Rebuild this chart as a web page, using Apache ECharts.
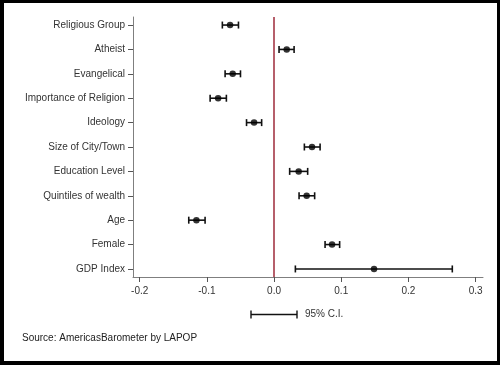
<!DOCTYPE html>
<html><head><meta charset="utf-8">
<script src="https://cdn.jsdelivr.net/npm/echarts@6/dist/echarts.min.js"></script>
<style>
html,body{margin:0;padding:0;background:#fff;}
#c{position:absolute;left:0;top:0;width:500px;height:365px;}
#frame{position:absolute;left:0;top:0;width:500px;height:365px;box-sizing:border-box;border-style:solid;border-color:#000;border-width:3px 3px 4px 4px;pointer-events:none;}
</style></head>
<body><div id="c"></div><div id="frame"></div>
<script>
const categories = ["Religious Group","Atheist","Evangelical","Importance of Religion","Ideology","Size of City/Town","Education Level","Quintiles of wealth","Age","Female","GDP Index"];
const estimates = [-0.0655, 0.0188, -0.0616, -0.0833, -0.0298, 0.0565, 0.0366, 0.0485, -0.1156, 0.0863, 0.1488];
const lower = [-0.077, 0.0074, -0.0729, -0.0952, -0.041, 0.0451, 0.0232, 0.0372, -0.127, 0.0759, 0.0317];
const upper = [-0.053, 0.0298, -0.050, -0.071, -0.0185, 0.0685, 0.050, 0.0604, -0.1027, 0.0976, 0.2653];
const xTicks = [-0.2, -0.1, 0.0, 0.1, 0.2, 0.3];
const sourceText = "Source: AmericasBarometer by LAPOP";
const legendText = "95% C.I.";

const FONT = "Liberation Sans, Arial, sans-serif";
const chart = echarts.init(document.getElementById('c'), null, {renderer:'canvas'});
const yIdx = categories.map((_, i) => i + 1);
const pts = estimates.map((v, i) => [v, i + 1]);
const ci = lower.map((l, i) => [l, upper[i], i + 1]);

const legSt = {stroke:'#111', lineWidth:1.4};
chart.setOption({
  animation:false,
  backgroundColor:'#fff',
  grid:{left:133, right:17, top:17, bottom:88},
  xAxis:{
    type:'value', min:-0.21, max:0.311,
    axisLine:{show:true, onZero:false, lineStyle:{color:'#7f7f7f', width:1}},
    axisTick:{show:true, customValues:xTicks, length:5, lineStyle:{color:'#555'}},
    axisLabel:{customValues:xTicks, formatter:v=>v.toFixed(1), color:'#333', fontSize:10, fontFamily:FONT, margin:9},
    splitLine:{show:false}
  },
  yAxis:{
    type:'value', inverse:true, min:0.67, max:11.33,
    axisLine:{show:true, onZero:false, lineStyle:{color:'#7f7f7f', width:1}},
    axisTick:{show:true, customValues:yIdx, length:5, lineStyle:{color:'#555'}},
    axisLabel:{customValues:yIdx, formatter:v=>categories[Math.round(v)-1]||'', color:'#333', fontSize:10, fontFamily:FONT, margin:8},
    splitLine:{show:false}
  },
  series:[
    {
      type:'custom',
      data:ci,
      renderItem:function(params, api){
        const a = api.coord([api.value(0), api.value(2)]);
        const b = api.coord([api.value(1), api.value(2)]);
        const h = 3.5;
        const st = {stroke:'#111', lineWidth:1.6};
        return {type:'group', children:[
          {type:'line', shape:{x1:a[0], y1:a[1], x2:b[0], y2:b[1]}, style:st},
          {type:'line', shape:{x1:a[0], y1:a[1]-h, x2:a[0], y2:a[1]+h}, style:st},
          {type:'line', shape:{x1:b[0], y1:b[1]-h, x2:b[0], y2:b[1]+h}, style:st}
        ]};
      },
      z:3
    },
    {
      type:'scatter',
      data:pts,
      symbol:'circle', symbolSize:6.5,
      itemStyle:{color:'#000'},
      z:4,
      markLine:{
        silent:true, symbol:['none','none'], label:{show:false},
        lineStyle:{color:'#9e2a3a', width:1.5, type:'solid'},
        data:[{xAxis:0}]
      }
    }
  ],
  graphic:[
    {type:'line', shape:{x1:251, y1:314.5, x2:297, y2:314.5}, style:legSt},
    {type:'line', shape:{x1:251, y1:310.5, x2:251, y2:318.5}, style:legSt},
    {type:'line', shape:{x1:297, y1:310.5, x2:297, y2:318.5}, style:legSt},
    {type:'text', x:305, y:314.5, style:{text:legendText, fill:'#333', font:'10px '+FONT, verticalAlign:'middle'}},
    {type:'text', x:22, y:338.5, style:{text:sourceText, fill:'#222', font:'10px '+FONT, verticalAlign:'middle'}}
  ]
});
</script></body></html>
